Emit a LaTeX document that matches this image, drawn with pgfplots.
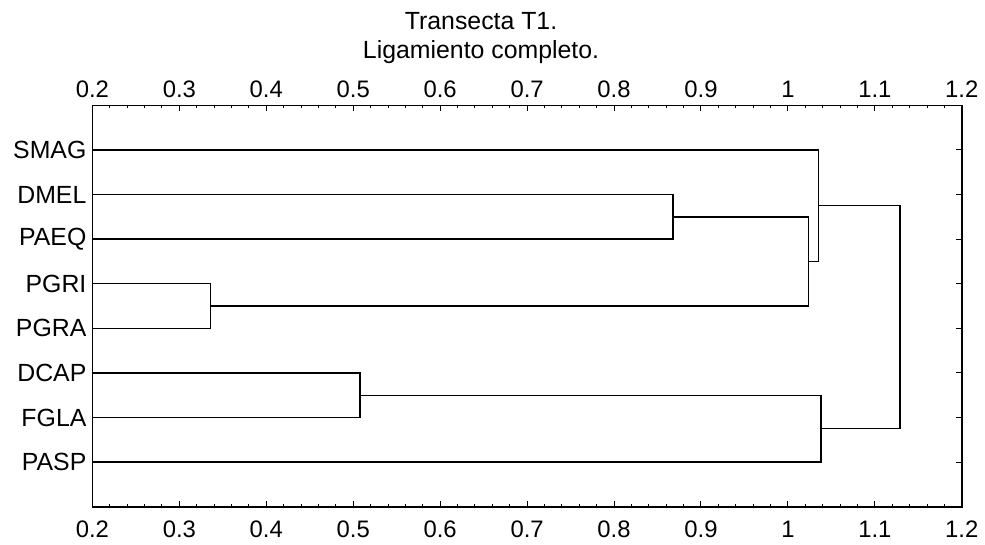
\documentclass[border=0pt]{standalone}
\usepackage{pgfplots}
\pgfplotsset{compat=1.18}
\usepackage{fontspec}
\setmainfont{Liberation Sans}
\begin{document}
\begin{tikzpicture}
\pgfplotsset{
  every tick label/.append style={font=\fontsize{12}{14}\selectfont},
  /pgf/number format/assume math mode=true,
}
\path (-46.5pt,-14.5pt) rectangle (446pt,255pt);
\begin{axis}[
  scale only axis, width=437.5pt, height=202pt,
  at={(0,0)}, anchor=south west,
  xmin=0.2, xmax=1.2, ymin=0, ymax=9,
  y dir=reverse,
  xtick={0.2,0.3,0.4,0.5,0.6,0.7,0.8,0.9,1,1.1,1.2},
  minor x tick num=4,
  xtick pos=both, xticklabel pos=bottom,
  xticklabel style={yshift=-3.5pt},
  ytick={1,2,3,4,5,6,7,8},
  yticklabels={SMAG,DMEL,PAEQ,PGRI,PGRA,DCAP,FGLA,PASP},
  yticklabel style={font=\fontsize{12.5}{14}\selectfont, xshift=0.5pt},
  ytick pos=right, yticklabel pos=left,
  tick align=inside,
  major tick length=3pt, minor tick length=1.5pt,
  axis line style={line width=0.8pt},
  every tick/.style={black, line width=0.5pt},
  clip=false,
]
\addplot[black, line width=0.7pt] coordinates {(0.2,2)(0.868,2)(0.868,3)(0.2,3)};
\addplot[black, line width=0.7pt] coordinates {(0.2,4)(0.336,4)(0.336,5)(0.2,5)};
\addplot[black, line width=0.7pt] coordinates {(0.868,2.5)(1.024,2.5)(1.024,4.5)(0.336,4.5)};
\addplot[black, line width=0.7pt] coordinates {(0.2,1)(1.035,1)(1.035,3.5)(1.024,3.5)};
\addplot[black, line width=0.7pt] coordinates {(0.2,6)(0.508,6)(0.508,7)(0.2,7)};
\addplot[black, line width=0.7pt] coordinates {(0.508,6.5)(1.038,6.5)(1.038,8)(0.2,8)};
\addplot[black, line width=0.7pt] coordinates {(1.035,2.25)(1.129,2.25)(1.129,7.25)(1.038,7.25)};
\end{axis}
\begin{axis}[
  scale only axis, width=437.5pt, height=202pt,
  at={(0,0)}, anchor=south west,
  xmin=0.2, xmax=1.2, ymin=0, ymax=1,
  axis x line*=top, axis y line=none,
  xtick={0.2,0.3,0.4,0.5,0.6,0.7,0.8,0.9,1,1.1,1.2},
  xticklabel style={yshift=0.5pt},
  tick align=inside, major tick length=3pt,
  axis line style={line width=0.8pt},
  every tick/.style={black, line width=0.5pt},
  clip=false,
]
\node[font=\fontsize{12.5}{14}\selectfont] at (rel axis cs:0.447,1) [yshift=42.5pt] {Transecta T1.};
\node[font=\fontsize{12.5}{14}\selectfont] at (rel axis cs:0.447,1) [yshift=27pt] {Ligamiento completo.};
\end{axis}
\end{tikzpicture}
\end{document}
